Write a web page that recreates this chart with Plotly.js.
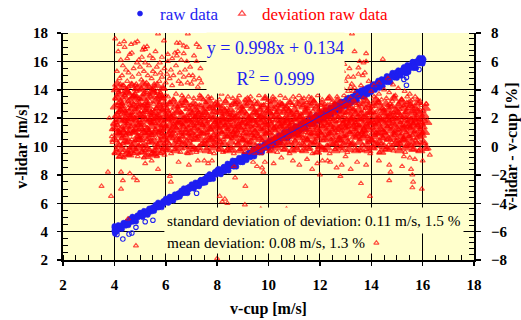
<!DOCTYPE html>
<html><head><meta charset="utf-8">
<script src="https://cdn.plot.ly/plotly-3.0.1.min.js"></script>
<style>html,body{margin:0;padding:0;background:#fff}#chart{width:521px;height:320px}</style>
</head><body><div id="chart"></div>
<script>
// raw data: v-cup [m/s] vs v-lidar [m/s]
const rawCup = [
4.00,4.01,4.00,4.03,4.01,4.04,4.00,4.02,
4.02,4.07,4.12,4.17,4.22,4.27,4.32,4.37,4.42,4.47,
4.52,4.57,4.62,4.67,4.72,4.77,4.82,4.87,4.92,4.97,
5.02,5.07,5.12,5.17,5.22,5.27,5.32,5.37,5.42,5.47,
5.52,5.57,5.62,5.67,5.72,5.77,5.82,5.87,5.92,5.97,
6.02,6.07,6.12,6.17,6.22,6.27,6.32,6.37,6.42,6.47,
6.52,6.57,6.62,6.67,6.72,6.77,6.82,6.87,6.92,6.97,
7.02,7.07,7.12,7.17,7.22,7.27,7.32,7.37,7.42,7.47,
7.52,7.57,7.62,7.67,7.72,7.77,7.82,7.87,7.92,7.97,
8.02,8.07,8.12,8.17,8.22,8.27,8.32,8.37,8.42,8.47,
8.52,8.57,8.62,8.67,8.72,8.77,8.82,8.87,8.92,8.97,
9.02,9.07,9.12,9.17,9.22,9.27,9.32,9.37,9.42,9.47,
9.52,9.57,9.62,9.67,9.72,9.77,9.82,9.87,9.92,9.97,
10.02,10.07,10.12,10.17,10.22,10.27,10.32,10.37,10.42,10.47,
10.52,10.57,10.62,10.67,10.72,10.77,10.82,10.87,10.92,10.97,
11.02,11.07,11.12,11.17,11.22,11.27,11.32,11.37,11.42,11.47,
11.52,11.57,11.62,11.67,11.72,11.77,11.82,11.87,11.92,11.97,
12.02,12.07,12.12,12.17,12.22,12.27,12.32,12.37,12.42,12.47,
12.52,12.57,12.62,12.67,12.72,12.77,12.82,12.87,12.92,12.97,
13.02,13.07,13.12,13.17,13.22,13.27,13.32,13.37,13.42,13.47,
13.52,13.57,13.62,13.67,13.72,13.77,13.82,13.87,13.92,13.97,
14.02,14.07,14.12,14.17,14.22,14.27,14.32,14.37,14.42,14.47,
14.52,14.57,14.62,14.67,14.72,14.77,14.82,14.87,14.92,14.97,
15.02,15.07,15.12,15.17,15.22,15.27,15.32,15.37,15.42,15.47,
15.52,15.57,15.62,15.67,15.72,15.77,15.82,15.87,15.92,15.97,
16.00,16.02,16.04];
const rawLidar = [
4.02,4.18,4.30,3.95,4.10,4.25,4.40,3.85,
4.07,4.22,4.10,4.26,4.41,4.30,4.44,4.44,4.63,4.48,
4.64,4.59,4.80,4.74,4.69,4.91,4.87,5.09,5.01,5.13,
5.10,5.27,5.13,5.30,5.28,5.44,5.30,5.48,5.65,5.51,
5.67,5.62,5.83,5.77,5.70,5.95,5.89,6.00,5.94,6.21,
6.08,6.26,6.23,6.14,6.46,6.36,6.47,6.39,6.63,6.59,
6.65,6.60,6.84,6.75,6.89,6.73,7.08,6.98,6.98,7.16,
7.11,7.32,7.16,7.33,7.34,7.48,7.30,7.65,7.49,7.61,
7.70,7.63,7.89,7.78,7.69,7.97,7.91,8.02,8.22,8.01,
8.12,8.31,8.13,8.34,8.35,8.56,8.38,8.57,8.38,8.62,
8.73,8.64,8.76,8.98,8.74,8.95,8.93,9.12,8.89,9.09,
9.14,9.34,9.17,9.36,9.56,9.36,9.28,9.59,9.57,9.48,
9.68,9.60,9.87,9.78,10.02,9.75,10.02,9.95,10.27,10.10,
10.19,10.11,10.21,10.48,10.19,10.49,10.45,10.27,10.68,10.53,
10.59,10.80,10.62,10.82,11.04,10.81,10.73,11.06,11.03,11.24,
11.14,11.04,11.35,11.24,11.10,11.44,11.65,11.39,11.56,11.74,
11.70,11.60,11.89,11.77,11.66,11.98,11.88,12.21,11.80,12.11,
12.08,12.30,12.10,12.32,12.54,12.15,12.42,12.56,12.43,12.74,
12.63,12.53,12.90,12.73,12.91,12.62,13.16,12.89,13.07,13.20,
13.17,13.08,13.45,13.25,13.06,13.49,13.29,13.64,13.47,13.85,
13.57,13.80,13.53,13.82,14.06,13.76,13.92,13.68,14.20,14.15,
14.12,14.03,14.41,14.22,14.41,14.65,14.13,14.52,14.43,14.71,
14.67,14.56,14.93,14.74,14.63,14.99,15.20,14.90,15.04,15.23,
15.07,15.31,15.04,15.34,15.22,15.61,15.42,15.15,15.70,15.43,
15.70,15.59,15.97,15.77,15.66,16.02,15.88,16.26,16.06,15.95,
16.25,15.98,16.14];
// more raw data in the band
const rawCupB = [
4.05,4.10,4.15,4.20,4.25,4.30,4.35,4.40,4.45,4.50,
4.55,4.60,4.65,4.70,4.75,4.80,4.85,4.90,4.95,5.00,
5.05,5.10,5.15,5.20,5.25,5.30,5.35,5.40,5.45,5.50,
5.55,5.60,5.65,5.70,5.75,5.80,5.85,5.90,5.95,6.00,
6.05,6.10,6.15,6.20,6.25,6.30,6.35,6.40,6.45,6.50,
6.55,6.60,6.65,6.70,6.75,6.80,6.85,6.90,6.95,7.00,
7.05,7.10,7.15,7.20,7.25,7.30,7.35,7.40,7.45,7.50,
7.55,7.60,7.65,7.70,7.75,7.80,7.85,7.90,7.95,8.00,
8.05,8.10,8.15,8.20,8.25,8.30,8.35,8.40,8.45,8.50,
8.55,8.60,8.65,8.70,8.75,8.80,8.85,8.90,8.95,9.00,
9.05,9.10,9.15,9.20,9.25,9.30,9.35,9.40,9.45,9.50,
9.55,9.60,9.65,9.70,9.75,9.80,9.85,9.90,9.95,10.00,
10.05,10.10,10.15,10.20,10.25,10.30,10.35,10.40,10.45,10.50,
10.55,10.60,10.65,10.70,10.75,10.80,10.85,10.90,10.95,11.00,
11.05,11.10,11.15,11.20,11.25,11.30,11.35,11.40,11.45,11.50,
11.55,11.60,11.65,11.70,11.75,11.80,11.85,11.90,11.95,12.00,
12.05,12.10,12.15,12.20,12.25,12.30,12.35,12.40,12.45,12.50,
12.55,12.60,12.65,12.70,12.75,12.80,12.85,12.90,12.95,13.00,
13.05,13.10,13.15,13.20,13.25,13.30,13.35,13.40,13.45,13.50,
13.55,13.60,13.65,13.70,13.75,13.80,13.85,13.90,13.95,14.00,
14.05,14.10,14.15,14.20,14.25,14.30,14.35,14.40,14.45,14.50,
14.55,14.60,14.65,14.70,14.75,14.80,14.85,14.90,14.95,15.00,
15.05,15.10,15.15,15.20,15.25,15.30,15.35,15.40,15.45,15.50,
15.55,15.60,15.65,15.70,15.75,15.80,15.85,15.90,15.95,16.00];
const rawLidarB = [
4.29,4.02,4.47,4.20,4.43,4.18,4.63,4.46,4.41,4.72,
4.45,4.90,4.69,5.06,4.73,5.00,4.71,5.16,5.05,5.34,
5.29,5.02,5.47,5.20,5.43,5.18,5.63,5.46,5.41,5.72,
5.45,5.90,5.69,6.06,5.73,6.00,5.71,6.16,6.05,6.34,
6.29,6.02,6.47,6.20,6.43,6.18,6.63,6.46,6.41,6.72,
6.45,6.90,6.69,7.06,6.73,7.00,6.71,7.16,7.05,7.34,
7.29,7.02,7.47,7.20,7.43,7.18,7.63,7.46,7.41,7.72,
7.45,7.90,7.69,8.06,7.73,8.00,7.71,8.16,8.05,8.34,
8.43,8.12,8.03,8.44,8.57,8.24,8.49,8.80,8.29,8.78,
8.61,9.02,8.57,9.00,8.57,9.02,9.21,8.90,9.21,8.88,
9.43,9.12,9.03,9.44,9.57,9.24,9.49,9.80,9.29,9.78,
9.61,10.02,9.57,10.00,9.57,10.02,10.21,9.90,10.21,9.88,
10.43,10.12,10.03,10.44,10.57,10.24,10.49,10.80,10.29,10.78,
10.61,11.02,10.57,11.00,10.57,11.02,11.21,10.90,11.21,10.88,
11.43,11.12,11.03,11.44,11.57,11.24,11.49,11.80,11.29,11.78,
11.61,12.02,11.57,12.00,11.57,12.02,12.21,11.90,12.21,11.88,
12.38,12.07,11.98,12.39,12.52,12.19,12.44,12.75,12.24,12.73,
12.56,12.97,12.52,12.95,12.52,12.97,13.16,12.85,13.16,12.83,
13.38,13.07,12.98,13.39,13.52,13.19,13.44,13.75,13.24,13.73,
13.56,13.97,13.52,13.95,13.52,13.97,14.16,13.85,14.16,13.83,
14.38,14.07,13.98,14.39,14.52,14.19,14.44,14.75,14.24,14.73,
14.56,14.97,14.52,14.95,14.52,14.97,15.16,14.85,15.16,14.83,
15.38,15.07,14.98,15.39,15.52,15.19,15.44,15.75,15.24,15.73,
15.56,15.97,15.52,15.95,15.52,15.97,16.16,15.85,16.16,15.83];
// raw data away from the band
const rawOutCup = [4.33,4.57,4.68,4.84,5.20,5.50,7.20,15.37,15.27,15.37,15.86,4.10];
const rawOutLidar = [3.48,3.83,3.90,4.30,4.70,4.80,6.70,14.32,14.73,14.87,15.43,3.80];

// deviation raw data: v-cup [m/s] vs (v-lidar - v-cup) [%]
const devCupDense = [
4.01,4.03,4.02,4.05,4.07,4.04,4.09,4.11,4.08,4.13,4.15,4.12,4.17,4.19,4.16,4.21,4.23,4.20,4.24,4.06,
4.26,4.28,4.27,4.30,4.32,4.29,4.34,4.36,4.33,4.38,4.40,4.37,4.42,4.44,4.41,4.46,4.48,4.45,4.49,4.31,
4.51,4.53,4.52,4.55,4.57,4.54,4.59,4.61,4.58,4.63,4.65,4.62,4.67,4.69,4.66,4.71,4.73,4.70,4.74,4.56,
4.76,4.78,4.77,4.80,4.82,4.79,4.84,4.86,4.83,4.88,4.90,4.87,4.92,4.94,4.91,4.96,4.98,4.95,4.99,4.81,
5.01,5.03,5.02,5.05,5.07,5.04,5.09,5.11,5.08,5.13,5.15,5.12,5.17,5.19,5.16,5.21,5.23,5.20,5.24,5.06,
5.26,5.28,5.27,5.30,5.32,5.29,5.34,5.36,5.33,5.38,5.40,5.37,5.42,5.44,5.41,5.46,5.48,5.45,5.49,5.31,
5.51,5.53,5.52,5.55,5.57,5.54,5.59,5.61,5.58,5.63,5.65,5.62,5.67,5.69,5.66,5.71,5.73,5.70,5.74,5.56,
5.76,5.78,5.77,5.80,5.82,5.79,5.84,5.86,5.83,5.88,5.90,5.87,5.92,5.94,5.91,5.96,5.98,5.95,5.99,5.81,
6.01,6.03,6.05,6.07,6.09,6.11,6.13,6.15,6.17,6.19,6.21,6.23,
6.26,6.28,6.30,6.32,6.34,6.36,6.38,6.40,6.42,6.44,6.46,6.48,
6.51,6.53,6.55,6.57,6.59,6.61,6.63,6.65,6.67,6.69,6.71,6.73,
6.76,6.78,6.80,6.82,6.84,6.86,6.88,6.90,6.92,6.94,6.96,6.98,
7.01,7.03,7.05,7.07,7.09,7.11,7.13,7.15,7.17,7.19,7.21,7.23,
7.26,7.28,7.30,7.32,7.34,7.36,7.38,7.40,7.42,7.44,7.46,7.48,
7.51,7.53,7.55,7.57,7.59,7.61,7.63,7.65,7.67,7.69,7.71,7.73,
7.76,7.78,7.80,7.82,7.84,7.86,7.88,7.90,7.92,7.94,7.96,7.98,
8.01,8.03,8.05,8.07,8.09,8.11,8.13,8.15,8.17,8.19,8.21,8.23,
8.26,8.28,8.30,8.32,8.34,8.36,8.38,8.40,8.42,8.44,8.46,8.48,
8.51,8.53,8.55,8.57,8.59,8.61,8.63,8.65,8.67,8.69,8.71,8.73,
8.76,8.78,8.80,8.82,8.84,8.86,8.88,8.90,8.92,8.94,8.96,8.98,
9.01,9.03,9.05,9.07,9.09,9.11,9.13,9.15,9.17,9.19,9.21,9.23,
9.26,9.28,9.30,9.32,9.34,9.36,9.38,9.40,9.42,9.44,9.46,9.48,
9.51,9.53,9.55,9.57,9.59,9.61,9.63,9.65,9.67,9.69,9.71,9.73,
9.76,9.78,9.80,9.82,9.84,9.86,9.88,9.90,9.92,9.94,9.96,9.98,
10.01,10.03,10.05,10.07,10.09,10.11,10.13,10.15,10.17,10.19,10.21,10.23,
10.26,10.28,10.30,10.32,10.34,10.36,10.38,10.40,10.42,10.44,10.46,10.48,
10.51,10.53,10.55,10.57,10.59,10.61,10.63,10.65,10.67,10.69,10.71,10.73,
10.76,10.78,10.80,10.82,10.84,10.86,10.88,10.90,10.92,10.94,10.96,10.98,
11.01,11.03,11.05,11.07,11.09,11.11,11.13,11.15,11.17,11.19,11.21,11.23,
11.26,11.28,11.30,11.32,11.34,11.36,11.38,11.40,11.42,11.44,11.46,11.48,
11.51,11.53,11.55,11.57,11.59,11.61,11.63,11.65,11.67,11.69,11.71,11.73,
11.76,11.78,11.80,11.82,11.84,11.86,11.88,11.90,11.92,11.94,11.96,11.98,
12.01,12.03,12.05,12.07,12.09,12.11,12.13,12.15,12.17,12.19,12.21,12.23,
12.26,12.28,12.30,12.32,12.34,12.36,12.38,12.40,12.42,12.44,12.46,12.48,
12.51,12.53,12.55,12.57,12.59,12.61,12.63,12.65,12.67,12.69,12.71,12.73,
12.76,12.78,12.80,12.82,12.84,12.86,12.88,12.90,12.92,12.94,12.96,12.98,
13.01,13.03,13.05,13.07,13.09,13.11,13.13,13.15,13.17,13.19,13.21,13.23,
13.26,13.28,13.30,13.32,13.34,13.36,13.38,13.40,13.42,13.44,13.46,13.48,
13.51,13.53,13.55,13.57,13.59,13.61,13.63,13.65,13.67,13.69,13.71,13.73,
13.76,13.78,13.80,13.82,13.84,13.86,13.88,13.90,13.92,13.94,13.96,13.98,
14.01,14.03,14.05,14.07,14.09,14.11,14.13,14.15,14.17,14.19,14.21,14.23,
14.26,14.28,14.30,14.32,14.34,14.36,14.38,14.40,14.42,14.44,14.46,14.48,
14.51,14.53,14.55,14.57,14.59,14.61,14.63,14.65,14.67,14.69,14.71,14.73,
14.76,14.78,14.80,14.82,14.84,14.86,14.88,14.90,14.92,14.94,14.96,14.98,
15.01,15.03,15.05,15.07,15.09,15.11,15.13,15.15,15.17,15.19,15.21,15.23,
15.26,15.28,15.30,15.32,15.34,15.36,15.38,15.40,15.42,15.44,15.46,15.48,
15.51,15.53,15.55,15.57,15.59,15.61,15.63,15.65,15.67,15.69,15.71,15.73,
15.76,15.78,15.80,15.82,15.84,15.86,15.88,15.90,15.92,15.94,15.96,15.98,
16.01,16.04,16.07,16.10,16.13,16.16];
const devPctDense = [
1.2,3.4,-0.5,2.1,0.4,4.1,1.7,2.9,-0.2,0.9,3.8,1.5,2.4,0.1,3.1,1.0,4.4,-0.7,2.6,1.9,
2.3,0.6,3.9,1.4,-0.4,2.8,1.1,4.3,0.2,3.3,1.8,-0.8,2.5,0.8,3.6,1.3,4.0,-0.1,2.0,3.0,
0.3,2.7,1.6,4.2,-0.6,3.2,0.9,2.2,3.7,-0.3,1.4,2.9,0.5,4.4,1.9,3.5,-0.1,2.4,1.1,3.0,
3.6,1.0,-0.5,2.6,0.4,4.0,1.8,3.1,-0.2,2.2,0.7,3.9,1.5,2.8,-0.7,1.2,3.4,0.1,2.0,4.3,
1.7,3.3,0.2,2.5,-0.4,4.1,1.2,2.9,0.6,3.7,-0.8,2.1,1.5,3.0,0.0,4.4,1.9,-0.3,2.7,0.9,
2.4,0.5,3.8,1.3,-0.6,2.9,1.0,4.2,0.3,3.2,1.7,-0.2,2.2,0.8,3.5,1.6,4.0,-0.5,2.6,1.1,
0.8,3.0,1.9,4.3,-0.3,2.3,1.2,3.6,0.1,2.7,-0.7,1.6,3.9,0.6,2.0,3.3,1.0,-0.1,2.5,4.0,
3.1,0.4,2.2,-0.5,1.5,3.8,0.9,2.6,1.8,-0.2,3.4,1.1,2.9,0.2,4.1,1.4,2.0,-0.6,3.6,0.7,
1.4,-0.3,2.7,0.8,3.5,1.9,0.2,2.3,3.1,1.1,-0.5,2.0,
2.5,0.6,1.6,3.3,-0.2,2.1,0.9,3.7,1.3,0.1,2.8,1.8,
0.3,3.0,1.7,-0.4,2.4,1.0,3.6,0.7,2.0,1.4,2.9,-0.1,
3.2,1.2,0.0,2.6,1.8,-0.5,3.5,0.9,2.2,0.4,1.5,2.9,
1.9,-0.2,2.8,0.5,3.4,1.3,2.1,0.8,3.0,-0.4,1.6,2.5,
0.7,2.4,1.1,3.6,-0.3,1.8,2.9,0.2,2.2,1.5,3.3,0.9,
2.2,0.4,3.1,1.6,-0.1,2.6,1.0,3.5,0.6,1.9,2.8,-0.4,
1.2,3.4,0.1,2.0,2.7,0.8,-0.5,1.7,3.0,0.5,2.4,1.4,
2.9,0.9,1.8,-0.2,3.3,1.3,0.3,2.5,3.7,1.0,2.1,-0.4,
0.5,2.3,1.5,3.2,-0.3,1.9,2.7,0.7,3.5,1.2,0.0,2.4,
1.7,-0.1,2.9,0.6,2.2,3.4,1.0,-0.5,2.0,1.4,3.0,0.3,
3.1,1.1,0.2,2.5,1.6,3.6,0.8,-0.2,2.1,1.3,2.8,0.5,
0.9,2.6,1.9,-0.4,3.3,1.2,0.4,2.3,3.0,1.6,-0.1,2.0,
2.1,0.3,3.5,1.4,0.8,2.8,-0.3,1.8,2.4,0.6,3.2,1.1,
1.5,3.0,-0.2,2.2,0.7,1.9,3.6,0.1,2.6,1.2,-0.5,2.9,
0.4,2.0,2.9,1.3,-0.1,3.4,1.7,0.9,2.5,3.1,0.2,1.5,
2.7,1.0,-0.3,3.2,1.6,0.5,2.3,1.9,3.5,0.0,1.3,2.6,
1.1,3.3,0.6,2.4,-0.4,1.8,2.9,0.3,2.1,1.4,3.6,0.8,
3.0,0.2,1.6,2.6,0.9,-0.2,2.0,3.4,1.2,0.5,2.8,1.8,
0.7,2.5,1.4,-0.5,3.1,2.2,0.3,1.7,2.9,1.0,3.5,0.0,
1.9,0.4,3.3,1.1,2.4,-0.1,2.8,0.8,1.5,3.6,0.2,2.1,
2.3,1.3,-0.3,2.9,0.6,1.8,3.4,0.1,2.6,1.0,2.0,3.1,
0.5,2.7,1.7,3.5,-0.2,1.2,2.2,0.9,3.0,1.5,-0.5,2.5,
3.2,1.6,0.3,2.0,2.8,0.7,-0.4,1.3,3.6,2.4,0.0,1.9,
1.0,2.9,2.1,-0.1,3.3,1.4,0.4,2.6,1.8,3.0,0.8,-0.3,
2.6,0.1,1.5,3.4,0.9,2.2,-0.5,1.9,2.8,0.5,3.1,1.2,
0.6,2.3,3.0,1.3,-0.2,1.8,2.7,0.2,3.5,1.0,2.1,0.0,
1.8,3.2,0.4,2.5,1.1,-0.3,2.9,1.6,0.7,3.6,2.2,1.3,
2.4,0.8,1.9,-0.4,3.1,1.4,0.3,2.7,1.0,3.4,2.0,0.1,
0.2,2.1,3.3,1.2,2.6,-0.1,1.7,0.6,2.9,1.5,3.6,0.9,
3.0,1.5,0.5,2.3,-0.3,1.9,2.8,1.0,0.1,3.4,1.3,2.5,
1.1,2.7,-0.2,1.6,3.2,0.7,2.2,0.3,2.9,1.8,-0.5,2.4,
2.0,0.4,2.8,1.3,-0.1,3.5,1.7,0.8,2.4,1.0,3.0,0.0,
0.9,3.1,1.6,-0.4,2.5,2.0,0.2,3.3,1.2,2.7,0.6,1.9,
2.6,1.0,-0.2,2.1,3.4,0.5,1.4,2.9,0.1,1.8,2.3,3.0,
1.4,2.8,0.3,3.2,1.9,-0.3,2.4,0.8,1.1,3.6,2.0,0.4,
0.6,2.2,3.0,1.2,-0.1,2.6,1.7,0.2,3.3,0.9,2.0,1.5,
2.9,0.5,1.8,-0.4,2.4,1.0,3.1,1.4,0.0,2.7,0.7,2.1,
1.3,3.2,0.1,2.0,2.8,0.8,-0.2,1.6,2.5,1.1,3.5,0.4,
2.2,0.6,1.5,3.0,-0.3,1.9,2.6,0.3,1.2,2.9,0.9,1.7,
1.0,2.5,0.2,1.8,3.0,-0.2];
// the packed middle of the deviation cloud
const devCupCore = [
4.00,4.02,4.04,4.06,4.08,4.10,4.12,4.14,4.16,4.18,4.20,4.22,4.24,4.03,4.11,4.19,
4.25,4.27,4.29,4.31,4.33,4.35,4.37,4.39,4.41,4.43,4.45,4.47,4.49,4.28,4.36,4.44,
4.50,4.52,4.54,4.56,4.58,4.60,4.62,4.64,4.66,4.68,4.70,4.72,4.74,4.53,4.61,4.69,
4.75,4.77,4.79,4.81,4.83,4.85,4.87,4.89,4.91,4.93,4.95,4.97,4.99,4.78,4.86,4.94,
5.00,5.02,5.04,5.06,5.08,5.10,5.12,5.14,5.16,5.18,5.20,5.22,5.24,5.03,5.11,5.19,
5.25,5.27,5.29,5.31,5.33,5.35,5.37,5.39,5.41,5.43,5.45,5.47,5.49,5.28,5.36,5.44,
5.50,5.52,5.54,5.56,5.58,5.60,5.62,5.64,5.66,5.68,5.70,5.72,5.74,5.53,5.61,5.69,
5.75,5.77,5.79,5.81,5.83,5.85,5.87,5.89,5.91,5.93,5.95,5.97,5.99,5.78,5.86,5.94,
6.00,6.02,6.04,6.06,6.08,6.10,6.12,6.14,6.16,6.18,6.20,6.22,
6.25,6.27,6.29,6.31,6.33,6.35,6.37,6.39,6.41,6.43,6.45,6.47,
6.50,6.52,6.54,6.56,6.58,6.60,6.62,6.64,6.66,6.68,6.70,6.72,
6.75,6.77,6.79,6.81,6.83,6.85,6.87,6.89,6.91,6.93,6.95,6.97,
7.00,7.02,7.04,7.06,7.08,7.10,7.12,7.14,7.16,7.18,7.20,7.22,
7.25,7.27,7.29,7.31,7.33,7.35,7.37,7.39,7.41,7.43,7.45,7.47,
7.50,7.52,7.54,7.56,7.58,7.60,7.62,7.64,7.66,7.68,7.70,7.72,
7.75,7.77,7.79,7.81,7.83,7.85,7.87,7.89,7.91,7.93,7.95,7.97,
8.00,8.02,8.04,8.06,8.08,8.10,8.12,8.14,8.16,8.18,8.20,8.22,
8.25,8.27,8.29,8.31,8.33,8.35,8.37,8.39,8.41,8.43,8.45,8.47,
8.50,8.52,8.54,8.56,8.58,8.60,8.62,8.64,8.66,8.68,8.70,8.72,
8.75,8.77,8.79,8.81,8.83,8.85,8.87,8.89,8.91,8.93,8.95,8.97,
9.00,9.02,9.04,9.06,9.08,9.10,9.12,9.14,9.16,9.18,9.20,9.22,
9.25,9.27,9.29,9.31,9.33,9.35,9.37,9.39,9.41,9.43,9.45,9.47,
9.50,9.52,9.54,9.56,9.58,9.60,9.62,9.64,9.66,9.68,9.70,9.72,
9.75,9.77,9.79,9.81,9.83,9.85,9.87,9.89,9.91,9.93,9.95,9.97,
10.00,10.02,10.04,10.06,10.08,10.10,10.12,10.14,10.16,10.18,10.20,10.22,
10.25,10.27,10.29,10.31,10.33,10.35,10.37,10.39,10.41,10.43,10.45,10.47,
10.50,10.52,10.54,10.56,10.58,10.60,10.62,10.64,10.66,10.68,10.70,10.72,
10.75,10.77,10.79,10.81,10.83,10.85,10.87,10.89,10.91,10.93,10.95,10.97,
11.00,11.02,11.04,11.06,11.08,11.10,11.12,11.14,11.16,11.18,11.20,11.22,
11.25,11.27,11.29,11.31,11.33,11.35,11.37,11.39,11.41,11.43,11.45,11.47,
11.50,11.52,11.54,11.56,11.58,11.60,11.62,11.64,11.66,11.68,11.70,11.72,
11.75,11.77,11.79,11.81,11.83,11.85,11.87,11.89,11.91,11.93,11.95,11.97,
12.00,12.02,12.04,12.06,12.08,12.10,12.12,12.14,12.16,12.18,12.20,12.22,
12.25,12.27,12.29,12.31,12.33,12.35,12.37,12.39,12.41,12.43,12.45,12.47,
12.50,12.52,12.54,12.56,12.58,12.60,12.62,12.64,12.66,12.68,12.70,12.72,
12.75,12.77,12.79,12.81,12.83,12.85,12.87,12.89,12.91,12.93,12.95,12.97,
13.00,13.02,13.04,13.06,13.08,13.10,13.12,13.14,13.16,13.18,13.20,13.22,
13.25,13.27,13.29,13.31,13.33,13.35,13.37,13.39,13.41,13.43,13.45,13.47,
13.50,13.52,13.54,13.56,13.58,13.60,13.62,13.64,13.66,13.68,13.70,13.72,
13.75,13.77,13.79,13.81,13.83,13.85,13.87,13.89,13.91,13.93,13.95,13.97,
14.00,14.02,14.04,14.06,14.08,14.10,14.12,14.14,14.16,14.18,14.20,14.22,
14.25,14.27,14.29,14.31,14.33,14.35,14.37,14.39,14.41,14.43,14.45,14.47,
14.50,14.52,14.54,14.56,14.58,14.60,14.62,14.64,14.66,14.68,14.70,14.72,
14.75,14.77,14.79,14.81,14.83,14.85,14.87,14.89,14.91,14.93,14.95,14.97,
15.00,15.02,15.04,15.06,15.08,15.10,15.12,15.14,15.16,15.18,15.20,15.22,
15.25,15.27,15.29,15.31,15.33,15.35,15.37,15.39,15.41,15.43,15.45,15.47,
15.50,15.52,15.54,15.56,15.58,15.60,15.62,15.64,15.66,15.68,15.70,15.72,
15.75,15.77,15.79,15.81,15.83,15.85,15.87,15.89,15.91,15.93,15.95,15.97,
16.00,16.03,16.06,16.09,16.12,16.15,16.18];
const devPctCore = [
0.5,2.8,1.6,4.0,-0.4,2.2,3.4,1.0,0.1,3.7,1.9,2.5,-0.7,1.3,4.4,0.8,
3.1,1.2,-0.2,2.6,4.2,0.6,1.8,3.5,0.3,2.0,1.4,3.9,-0.5,2.9,1.0,2.3,
1.7,3.8,0.4,2.4,-0.6,3.2,1.1,2.0,4.3,0.0,2.7,1.5,3.5,0.9,-0.3,2.1,
2.9,0.2,1.9,3.6,1.2,-0.4,2.5,4.1,0.7,1.6,3.0,-0.1,2.2,1.0,3.4,0.5,
0.5,2.8,1.6,4.0,-0.4,2.2,3.4,1.0,0.1,3.7,1.9,2.5,-0.7,1.3,4.4,0.8,
3.1,1.2,-0.2,2.6,4.2,0.6,1.8,3.5,0.3,2.0,1.4,3.9,-0.5,2.9,1.0,2.3,
1.7,3.8,0.4,2.4,-0.6,3.2,1.1,2.0,4.3,0.0,2.7,1.5,3.5,0.9,-0.3,2.1,
2.9,0.2,1.9,3.6,1.2,-0.4,2.5,4.1,0.7,1.6,3.0,-0.1,2.2,1.0,3.4,0.5,
1.3,2.6,0.3,1.9,-0.2,2.3,0.9,3.0,1.5,0.6,2.0,1.1,
0.8,2.1,3.2,1.4,0.1,1.8,2.8,-0.3,1.2,2.4,0.5,1.6,
2.5,0.4,1.7,-0.1,2.9,1.0,0.7,2.2,1.4,3.3,0.2,1.9,
1.6,3.1,0.9,2.0,0.3,1.2,2.7,-0.4,1.8,0.6,2.4,1.0,
0.0,1.5,2.3,0.8,3.0,1.9,-0.2,1.3,2.6,0.5,1.7,2.1,
2.2,1.1,-0.1,2.8,0.6,1.6,3.4,0.9,2.0,1.4,0.2,2.5,
1.0,2.4,1.8,0.2,2.9,-0.3,1.5,2.1,0.7,3.2,1.2,0.4,
2.7,0.5,1.3,2.2,-0.1,1.9,0.8,2.5,1.6,0.1,3.0,1.4,
0.6,1.8,2.9,1.1,0.3,2.4,1.5,-0.2,2.0,0.9,2.7,1.7,
1.9,0.2,2.5,1.4,3.1,0.7,1.1,2.3,-0.3,1.6,2.0,0.8,
1.3,2.6,0.3,1.9,-0.2,2.3,0.9,3.0,1.5,0.6,2.0,1.1,
0.8,2.1,3.2,1.4,0.1,1.8,2.8,-0.3,1.2,2.4,0.5,1.6,
2.5,0.4,1.7,-0.1,2.9,1.0,0.7,2.2,1.4,3.3,0.2,1.9,
1.6,3.1,0.9,2.0,0.3,1.2,2.7,-0.4,1.8,0.6,2.4,1.0,
0.0,1.5,2.3,0.8,3.0,1.9,-0.2,1.3,2.6,0.5,1.7,2.1,
2.2,1.1,-0.1,2.8,0.6,1.6,3.4,0.9,2.0,1.4,0.2,2.5,
1.0,2.4,1.8,0.2,2.9,-0.3,1.5,2.1,0.7,3.2,1.2,0.4,
2.7,0.5,1.3,2.2,-0.1,1.9,0.8,2.5,1.6,0.1,3.0,1.4,
0.6,1.8,2.9,1.1,0.3,2.4,1.5,-0.2,2.0,0.9,2.7,1.7,
1.9,0.2,2.5,1.4,3.1,0.7,1.1,2.3,-0.3,1.6,2.0,0.8,
1.3,2.6,0.3,1.9,-0.2,2.3,0.9,3.0,1.5,0.6,2.0,1.1,
0.8,2.1,3.2,1.4,0.1,1.8,2.8,-0.3,1.2,2.4,0.5,1.6,
2.5,0.4,1.7,-0.1,2.9,1.0,0.7,2.2,1.4,3.3,0.2,1.9,
1.6,3.1,0.9,2.0,0.3,1.2,2.7,-0.4,1.8,0.6,2.4,1.0,
0.0,1.5,2.3,0.8,3.0,1.9,-0.2,1.3,2.6,0.5,1.7,2.1,
2.2,1.1,-0.1,2.8,0.6,1.6,3.4,0.9,2.0,1.4,0.2,2.5,
1.0,2.4,1.8,0.2,2.9,-0.3,1.5,2.1,0.7,3.2,1.2,0.4,
2.7,0.5,1.3,2.2,-0.1,1.9,0.8,2.5,1.6,0.1,3.0,1.4,
0.6,1.8,2.9,1.1,0.3,2.4,1.5,-0.2,2.0,0.9,2.7,1.7,
1.9,0.2,2.5,1.4,3.1,0.7,1.1,2.3,-0.3,1.6,2.0,0.8,
1.3,2.6,0.3,1.9,-0.2,2.3,0.9,3.0,1.5,0.6,2.0,1.1,
0.8,2.1,3.2,1.4,0.1,1.8,2.8,-0.3,1.2,2.4,0.5,1.6,
2.5,0.4,1.7,-0.1,2.9,1.0,0.7,2.2,1.4,3.3,0.2,1.9,
1.6,3.1,0.9,2.0,0.3,1.2,2.7,-0.4,1.8,0.6,2.4,1.0,
0.0,1.5,2.3,0.8,3.0,1.9,-0.2,1.3,2.6,0.5,1.7,2.1,
2.2,1.1,-0.1,2.8,0.6,1.6,3.4,0.9,2.0,1.4,0.2,2.5,
1.0,2.4,1.8,0.2,2.9,-0.3,1.5,2.1,0.7,3.2,1.2,0.4,
2.7,0.5,1.3,2.2,-0.1,1.9,0.8,2.5,1.6,0.1,3.0,1.4,
0.6,1.8,2.9,1.1,0.3,2.4,1.5,-0.2,2.0,0.9,2.7,1.7,
1.9,0.2,2.5,1.4,3.1,0.7,1.1,2.3,-0.3,1.6,2.0,0.8,
1.4,0.3,2.2,1.0,2.7,-0.1,1.7];

// deviation raw data: scattered points outside the core
const devCupSparse = [
4.03,4.40,4.65,4.80,4.90,5.15,5.20,5.10,5.27,4.60,4.68,5.07,5.38,5.93,6.08,6.43,6.36,6.47,6.43,6.70,
6.55,6.70,6.82,5.70,6.86,4.33,4.88,5.20,5.77,6.08,6.82,7.20,7.30,7.20,7.35,7.30,7.38,7.25,7.10,6.95,7.05,
4.10,4.20,4.30,4.45,4.50,4.55,4.70,4.75,4.85,4.95,5.00,5.05,5.15,5.25,5.30,5.35,5.45,5.50,5.55,5.60,
5.65,5.75,5.80,5.85,5.95,6.00,6.05,6.15,6.20,6.25,6.30,6.40,6.50,6.55,6.60,6.70,6.75,6.85,6.90,7.00,7.10,
4.25,4.50,4.95,5.50,5.60,5.85,6.25,6.60,4.15,4.38,4.20,
13.25,13.35,13.80,13.55,13.70,13.80,14.45,13.50,13.50,13.67,13.75,12.90,13.10,13.30,13.24,12.90,13.20,13.35,
13.10,13.30,14.30,14.50,14.85,14.90,15.20,15.40,15.60,15.80,15.90,16.15,13.90,14.10,14.65,15.05,15.30,13.60,
14.00,14.30,14.70,15.50,13.00,12.95,13.15,
3.50,3.75,3.87,4.26,4.33,4.26,4.60,4.76,4.88,5.70,6.16,6.20,4.53,4.84,8.00,7.25,7.50,7.65,7.80,8.65,8.70,
9.10,8.40,8.20,8.30,8.10,9.08,9.70,9.75,9.86,9.40,9.55,9.80,10.50,10.95,11.90,12.10,12.30,10.70,12.40,12.80,
12.85,13.00,13.20,13.45,13.80,13.95,14.20,14.70,14.75,14.70,15.27,15.50,15.55,15.60,15.63,15.60,15.97,16.00,
16.28,15.70,3.80,3.90,3.90,3.93,3.95,5.20,5.45,6.50,6.90,11.20,11.50,14.30,12.00,12.65,10.20,11.70,13.60,15.20];
const devPctSparse = [
7.6,7.0,7.2,7.3,7.4,7.0,6.85,6.8,7.05,6.5,6.6,6.3,6.4,7.45,6.5,7.3,6.6,6.7,6.4,6.55,
7.3,7.1,7.0,7.95,7.95,5.7,5.9,5.9,5.9,6.0,6.0,7.2,7.0,6.0,5.5,4.8,4.5,4.2,6.4,5.6,5.0,
5.3,4.8,5.0,5.4,4.6,5.2,4.9,5.5,4.4,5.1,5.6,4.7,5.3,4.5,5.0,5.7,4.8,5.3,4.4,5.1,
5.6,4.6,5.2,4.9,5.5,4.5,5.1,4.8,5.4,4.3,5.0,5.7,4.6,5.2,4.4,4.9,5.4,4.5,5.0,4.4,4.7,
6.1,6.2,6.1,6.2,6.7,6.3,6.2,6.1,6.7,7.4,7.2,
7.95,6.7,6.55,6.0,5.9,6.0,6.15,5.55,5.1,5.0,5.2,5.3,4.9,4.9,4.4,4.1,4.2,4.15,
3.9,3.9,4.5,4.0,4.35,3.5,3.3,3.5,3.3,3.3,3.2,3.0,4.6,4.3,4.8,4.1,3.9,4.3,
3.9,3.7,3.8,3.7,4.6,5.8,5.5,
-2.8,-1.8,-3.5,-1.8,-2.4,-3.0,-1.9,-2.2,-2.4,-1.6,-2.1,-2.5,-5.1,-7.0,-7.9,-1.0,-1.0,-1.2,-1.0,-1.4,-2.2,
-2.8,-4.0,-3.9,-3.7,-3.5,-4.1,-4.4,-1.5,-1.1,-1.1,-1.4,-1.8,-0.8,-1.0,-1.2,-1.0,-1.0,-4.4,-1.1,-2.1,
-1.3,-0.7,-1.6,-1.1,-1.3,-3.5,-6.8,-1.3,-1.8,-2.4,-0.7,-0.8,-1.6,-2.0,-2.5,-2.9,-3.0,-1.0,
-0.6,-0.9,2.0,1.2,0.7,0.3,1.6,-1.2,-1.0,-1.1,-1.3,-1.3,-0.9,-1.0,-2.0,-1.5,-1.2,-1.6,-2.6,-1.4];

// linear fit y = 0.998x + 0.134
const fitCup = [4, 16];
const fitLidar = [4.126, 16.102];

const FONT = 'Liberation Serif, Times New Roman, serif';
const BG = '#FFFFCC';
const BLUE = '#1E1EF0';
const RED = '#FF0000';

const baseAxis = {
  ticks: 'outside', ticklen: 4, tickwidth: 1.5, tickcolor: '#000',
  showline: true, linewidth: 2, linecolor: '#000',
  showgrid: true, gridcolor: '#000', gridwidth: 1, zeroline: false,
  tickfont: {family: FONT, size: 15, color: '#000', weight: 700},
  automargin: false, fixedrange: true
};

// one trace for all deviation points; the packed core points get a solid marker
const devX = devCupSparse.concat(devCupCore, devCupDense);
const devY = devPctSparse.concat(devPctCore, devPctDense);
const devSymbol = devCupSparse.map(() => 'triangle-up-open')
  .concat(devCupCore.map(() => 'triangle-up'), devCupDense.map(() => 'triangle-up-open'));
const devSize = devCupSparse.map(() => 4.5)
  .concat(devCupCore.map(() => 8), devCupDense.map(() => 4.5));

const traces = [
  {type: 'scatter', mode: 'markers', name: 'raw data',
   x: rawCupB.concat(rawCup), y: rawLidarB.concat(rawLidar),
   xaxis: 'x', yaxis: 'y', legend: 'legend',
   marker: {symbol: 'circle', size: 5, color: BLUE, line: {width: 0.6, color: BLUE}}},
  {type: 'scatter', mode: 'markers', name: 'raw data', x: rawOutCup, y: rawOutLidar,
   xaxis: 'x', yaxis: 'y', showlegend: false,
   marker: {symbol: 'circle-open', size: 4.5, color: BLUE, line: {width: 1.1, color: BLUE}}},
  {type: 'scatter', mode: 'markers', name: 'deviation raw data', x: devX, y: devY,
   xaxis: 'x', yaxis: 'y2', legend: 'legend2',
   marker: {symbol: devSymbol, size: devSize, color: RED, line: {width: 1.2, color: RED}}},
  {type: 'scatter', mode: 'lines', name: 'fit', x: fitCup, y: fitLidar,
   xaxis: 'x', yaxis: 'y3', showlegend: false,
   line: {color: BLUE, width: 1}}
];

const layout = {
  width: 521, height: 320,
  margin: {l: 63, r: 47, t: 33, b: 60, pad: 0},
  paper_bgcolor: '#ffffff', plot_bgcolor: BG,
  font: {family: FONT, color: '#000'},
  xaxis: Object.assign({}, baseAxis, {
    range: [2, 18], tick0: 2, dtick: 2, ticklabelstandoff: 6,
    minor: {dtick: 0.5, ticks: 'inside', ticklen: 5, tickwidth: 1, tickcolor: '#000', showgrid: false},
    title: {text: 'v-cup [m/s]', standoff: 11, font: {family: FONT, size: 16, weight: 700, color: '#000'}}
  }),
  yaxis: Object.assign({}, baseAxis, {
    range: [2, 18], tick0: 2, dtick: 2, ticklabelstandoff: 6,
    minor: {dtick: 0.5, ticks: 'inside', ticklen: 5, tickwidth: 1, tickcolor: '#000', showgrid: false},
    title: {text: 'v-lidar [m/s]', standoff: 1, font: {family: FONT, size: 16, weight: 700, color: '#000'}}
  }),
  yaxis2: Object.assign({}, baseAxis, {
    overlaying: 'y', side: 'right', range: [-8, 8], tick0: 0, dtick: 2, showgrid: false,
    ticks: 'outside', ticklen: 5, ticklabelstandoff: 7,
    minor: {dtick: 0.4, ticks: 'inside', ticklen: 5, tickwidth: 1, tickcolor: '#000', showgrid: false},
    title: {text: 'v-lidar - v-cup [%]', standoff: 0, font: {family: FONT, size: 16, weight: 700, color: '#000'}}
  }),
  yaxis3: {overlaying: 'y', range: [2, 18], visible: false, fixedrange: true},
  legend: {orientation: 'h', xref: 'container', yref: 'container', x: 120/521, y: 1 - 14/320,
    xanchor: 'left', yanchor: 'middle', bgcolor: 'rgba(0,0,0,0)',
    font: {family: FONT, size: 17, color: BLUE}},
  legend2: {orientation: 'h', xref: 'container', yref: 'container', x: 222/521, y: 1 - 14/320,
    xanchor: 'left', yanchor: 'middle', bgcolor: 'rgba(0,0,0,0)',
    font: {family: FONT, size: 17, color: RED}},
  annotations: [
    {xref: 'x', yref: 'y', x: 10.253, y: 16.94, text: 'y = 0.998x + 0.134', showarrow: false,
     font: {family: FONT, size: 18, color: BLUE}, bgcolor: BG, width: 137, height: 30, borderpad: 0,
     align: 'center', valign: 'middle'},
    {xref: 'x', yref: 'y', x: 10.253, y: 14.83, text: 'R<sup>2</sup> = 0.999', showarrow: false,
     font: {family: FONT, size: 18, color: BLUE}, bgcolor: BG, width: 137, height: 30, borderpad: 0,
     align: 'center', valign: 'middle'},
    {xref: 'x', yref: 'y', x: 11.77, y: 4.80, text: 'standard deviation of deviation: 0.11 m/s, 1.5 %', showarrow: false,
     font: {family: FONT, size: 15.3, color: '#000'}, bgcolor: BG, width: 294, height: 21, borderpad: 2,
     align: 'left', valign: 'middle'},
    {xref: 'x', yref: 'y', x: 10.0, y: 3.22, text: 'mean deviation: 0.08 m/s, 1.3 %', showarrow: false,
     font: {family: FONT, size: 15.3, color: '#000'}, bgcolor: BG, width: 203, height: 17, borderpad: 2,
     align: 'left', valign: 'middle'}
  ]
};

Plotly.newPlot('chart', traces, layout, {displayModeBar: false, staticPlot: true});
</script>
</body></html>
